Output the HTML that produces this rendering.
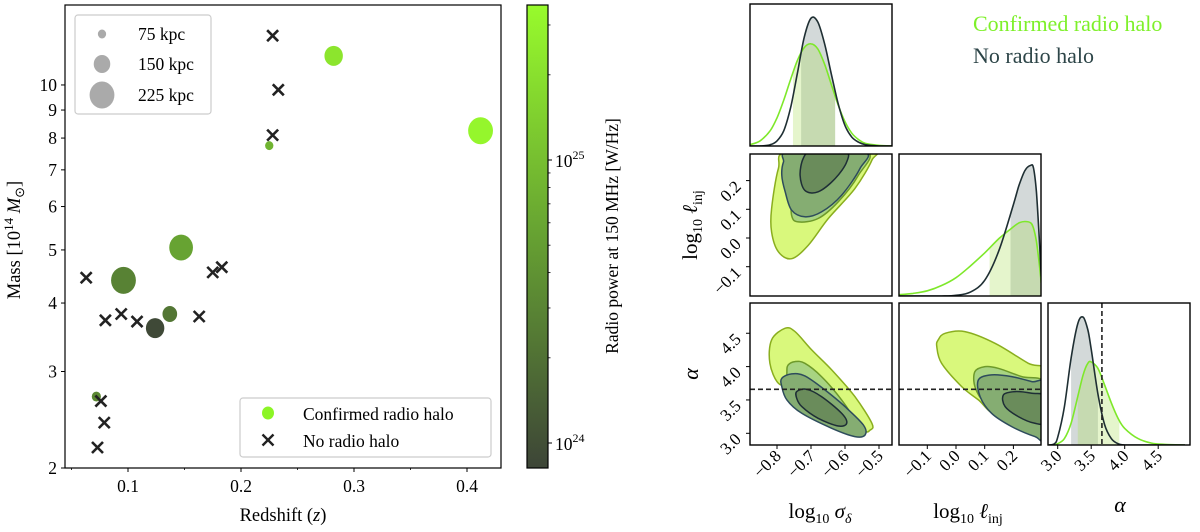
<!DOCTYPE html>
<html><head><meta charset="utf-8"><style>
html,body{margin:0;padding:0;background:#fff;}
svg{display:block;font-family:"Liberation Serif",serif;}
</style></head><body>
<svg id="fig" width="1200" height="532" viewBox="0 0 1200 532" xmlns="http://www.w3.org/2000/svg">
<defs>
<clipPath id="cpS"><rect x="65" y="5" width="436" height="463"/></clipPath>
<clipPath id="c11"><rect x="750" y="4" width="142" height="142"/></clipPath>
<clipPath id="c21"><rect x="750" y="154" width="142" height="142"/></clipPath>
<clipPath id="c22"><rect x="899" y="154" width="142" height="142"/></clipPath>
<clipPath id="c31"><rect x="750" y="303" width="142" height="142"/></clipPath>
<clipPath id="c32"><rect x="899" y="303" width="142" height="142"/></clipPath>
<clipPath id="c33"><rect x="1048" y="303" width="142" height="142"/></clipPath>
<linearGradient id="cmap" x1="0" y1="1" x2="0" y2="0">
<stop offset="0" stop-color="#3d4537"/><stop offset="0.5" stop-color="#66a132"/><stop offset="1" stop-color="#98fb2c"/>
</linearGradient>
</defs>
</svg>
<script>
// ---------- scatter data ----------
const haloZ = [0.282, 0.412, 0.225, 0.147, 0.096, 0.137, 0.124, 0.072];
const haloMass = [11.3, 8.25, 7.75, 5.05, 4.4, 3.82, 3.6, 2.7];
const haloSizeKpc = [167, 225, 75, 215, 225, 133, 167, 83];
const haloLogPower = [25.35, 25.5, 24.9, 24.75, 24.45, 24.35, 23.95, 24.5];
const noHaloZ = [0.228, 0.233, 0.228, 0.063, 0.175, 0.183, 0.080, 0.094, 0.108, 0.163, 0.076, 0.079, 0.073];
const noHaloMass = [12.3, 9.8, 8.1, 4.45, 4.55, 4.65, 3.72, 3.82, 3.7, 3.78, 2.65, 2.42, 2.18];
const xTicks = [0.1, 0.2, 0.3, 0.4];
const xTickLabels = ["0.1", "0.2", "0.3", "0.4"];
const yTicks = [2, 3, 4, 5, 6, 7, 8, 9, 10];
const yTickLabels = ["2", "3", "4", "5", "6", "7", "8", "9", "10"];
const cbTicks = [24, 25];
const legendSizes = [75, 150, 225];

// ---------- corner data ----------
const sigGrid = [-0.88,-0.85,-0.82,-0.8,-0.78,-0.76,-0.74,-0.72,-0.70,-0.68,-0.66,-0.64,-0.62,-0.60,-0.58,-0.56,-0.54,-0.50,-0.46];
const sigDark = [0,0,0.01,0.04,0.12,0.3,0.57,0.85,1.0,0.97,0.8,0.56,0.33,0.16,0.07,0.03,0.01,0,0];
const sigGreen = [0.01,0.04,0.12,0.22,0.36,0.52,0.67,0.77,0.8,0.76,0.64,0.48,0.32,0.19,0.1,0.05,0.02,0.005,0];
const linjGrid = [-0.2,-0.15,-0.1,-0.05,0,0.05,0.1,0.15,0.2,0.22,0.24,0.26,0.27,0.28,0.29,0.297];
const linjGreen = [0.01,0.02,0.04,0.08,0.14,0.23,0.33,0.44,0.53,0.56,0.57,0.56,0.52,0.42,0.25,0.1];
const linjDark = [0,0,0,0,0.005,0.03,0.12,0.35,0.7,0.85,0.96,1.0,0.98,0.8,0.45,0.15];
const alphaGrid = [2.87,2.95,3.0,3.1,3.2,3.3,3.38,3.45,3.5,3.6,3.7,3.8,3.9,4.0,4.2,4.4,4.6,4.9];
const alphaDark = [0,0.01,0.06,0.3,0.68,0.95,1.0,0.9,0.75,0.4,0.16,0.05,0.01,0,0,0,0,0];
const alphaGreen = [0,0,0.01,0.05,0.17,0.38,0.55,0.64,0.65,0.6,0.47,0.33,0.21,0.13,0.05,0.015,0.005,0];
const sigBandGreen = [-0.753, -0.629];
const sigBandDark = [-0.729, -0.629];
const linjBandGreen = [0.117, 0.297];
const linjBandDark = [0.19, 0.297];
const alphaBandGreen = [3.3, 3.92];
const alphaBandDark = [3.2, 3.6];
const alphaTrue = 3.66;
// contours [x,y] pairs
const sl_greenOuter = [[-0.796,0.242],[-0.767,0.3],[-0.526,0.3],[-0.521,0.271],[-0.571,0.172],[-0.649,0.068],[-0.708,-0.025],[-0.757,-0.072],[-0.796,-0.048],[-0.816,0.021],[-0.816,0.102]];
const sl_greenInner = [[-0.747,0.242],[-0.732,0.3],[-0.536,0.3],[-0.561,0.218],[-0.62,0.126],[-0.679,0.068],[-0.737,0.056],[-0.757,0.079],[-0.757,0.161]];
const sl_darkOuter = [[-0.781,0.265],[-0.762,0.3],[-0.546,0.3],[-0.556,0.242],[-0.61,0.149],[-0.669,0.091],[-0.718,0.074],[-0.757,0.097],[-0.776,0.161],[-0.786,0.218]];
const sl_darkInner = [[-0.723,0.277],[-0.698,0.3],[-0.6,0.3],[-0.595,0.265],[-0.629,0.207],[-0.679,0.161],[-0.718,0.166],[-0.732,0.218]];
const sa_greenOuter = [[-0.816,4.40],[-0.776,4.575],[-0.747,4.525],[-0.698,4.25],[-0.639,3.95],[-0.571,3.55],[-0.521,3.15],[-0.526,3.05],[-0.551,3.05],[-0.649,3.40],[-0.757,3.70],[-0.796,3.75],[-0.821,4.05]];
const sa_greenInner = [[-0.767,4.025],[-0.747,4.075],[-0.718,4.05],[-0.669,3.85],[-0.61,3.5],[-0.581,3.25],[-0.6,3.125],[-0.669,3.2],[-0.737,3.4],[-0.767,3.7],[-0.771,3.925]];
const sa_darkOuter = [[-0.786,3.825],[-0.757,3.89],[-0.718,3.86],[-0.659,3.65],[-0.6,3.4],[-0.546,3.125],[-0.541,2.975],[-0.571,2.95],[-0.639,3.075],[-0.727,3.30],[-0.771,3.5],[-0.786,3.70]];
const sa_darkInner = [[-0.742,3.625],[-0.713,3.66],[-0.669,3.55],[-0.61,3.30],[-0.595,3.15],[-0.62,3.11],[-0.679,3.225],[-0.727,3.40],[-0.742,3.525]];
const la_greenOuter = [[-0.062,4.40],[-0.038,4.5],[0.031,4.525],[0.136,4.35],[0.252,4.05],[0.31,3.95],[0.31,3.40],[0.287,3.40],[0.147,3.275],[0.078,3.5],[0.020,3.70],[-0.05,4.05],[-0.067,4.30]];
const la_greenInner = [[0.066,3.925],[0.101,4.0],[0.147,3.975],[0.229,3.85],[0.31,3.75],[0.31,3.10],[0.264,3.10],[0.171,3.25],[0.101,3.45],[0.066,3.70]];
const la_darkOuter = [[0.078,3.80],[0.124,3.875],[0.194,3.85],[0.264,3.775],[0.31,3.725],[0.31,2.925],[0.275,2.95],[0.194,3.10],[0.124,3.30],[0.084,3.55]];
const la_darkInner = [[0.165,3.575],[0.206,3.625],[0.264,3.60],[0.31,3.55],[0.31,3.175],[0.275,3.15],[0.217,3.25],[0.171,3.40]];
const sigTicks = [-0.8,-0.7,-0.6,-0.5];
const sigTickLabels = ["\u22120.8","\u22120.7","\u22120.6","\u22120.5"];
const linjTicks = [-0.1,0.0,0.1,0.2];
const linjTickLabels = ["\u22120.1","0.0","0.1","0.2"];
const alphaTicks = [3.0,3.5,4.0,4.5];
const alphaTickLabels = ["3.0","3.5","4.0","4.5"];

const NS = "http://www.w3.org/2000/svg";
const svg = document.getElementById("fig");
function el(tag, attrs, parent) {
  const e = document.createElementNS(NS, tag);
  for (const k in attrs) e.setAttribute(k, attrs[k]);
  (parent || svg).appendChild(e);
  return e;
}
function txt(s, attrs, parent) { const t = el("text", attrs, parent); t.textContent = s; return t; }

// scales
const sx = z => 15 + z * 1130;
const sy = m => 468 - (Math.log10(m) - Math.log10(2)) * 548;
const cby = p => 160 - (p - 25) * 283;
const rOf = s => s / 225 * 13.5;
function lerp(a, b, t) { return a + (b - a) * t; }
function cmap(p) {
  let t = (p - 23.91) / (25.548 - 23.91); t = Math.max(0, Math.min(1, t));
  const c0 = [61,69,55], c1 = [102,161,50], c2 = [152,251,44];
  let a, b, u;
  if (t < 0.5) { a = c0; b = c1; u = t / 0.5; } else { a = c1; b = c2; u = (t - 0.5) / 0.5; }
  return "rgb(" + [0,1,2].map(i => Math.round(lerp(a[i], b[i], u))).join(",") + ")";
}
// smooth path through pixel points (Catmull-Rom)
function smooth(P, closed) {
  const n = P.length;
  const get = i => closed ? P[(i + n) % n] : P[Math.max(0, Math.min(n - 1, i))];
  let d = "M" + P[0][0].toFixed(1) + "," + P[0][1].toFixed(1);
  const m = closed ? n : n - 1;
  for (let i = 0; i < m; i++) {
    const p0 = get(i - 1), p1 = get(i), p2 = get(i + 1), p3 = get(i + 2);
    const c1 = [p1[0] + (p2[0] - p0[0]) / 6, p1[1] + (p2[1] - p0[1]) / 6];
    const c2 = [p2[0] - (p3[0] - p1[0]) / 6, p2[1] - (p3[1] - p1[1]) / 6];
    d += "C" + c1.map(v => v.toFixed(1)).join(",") + " " + c2.map(v => v.toFixed(1)).join(",") + " " + p2[0].toFixed(1) + "," + p2[1].toFixed(1);
  }
  return d + (closed ? "Z" : "");
}

// ===== scatter panel =====
const gS = el("g", {});


const gPts = el("g", {"clip-path": "url(#cpS)"}, gS);
haloZ.forEach((z, i) => {
  const c = el("ellipse", {cx: sx(haloZ[i]), cy: sy(haloMass[i]), rx: rOf(haloSizeKpc[i]) * 0.92, ry: rOf(haloSizeKpc[i]), fill: cmap(haloLogPower[i])}, gPts);
  
  
});
function xMark(x, y, h, parent, w) {
  const g = el("g", {stroke: "#222", "stroke-width": w || 2.6}, parent);
  el("line", {x1: x - h, y1: y - h, x2: x + h, y2: y + h}, g);
  el("line", {x1: x - h, y1: y + h, x2: x + h, y2: y - h}, g);
  return g;
}
noHaloZ.forEach((z, i) => {
  const g = xMark(sx(noHaloZ[i]), sy(noHaloMass[i]), 5.5, gPts);
  
  
});
el("rect", {x: 65, y: 5, width: 436, height: 463, fill: "none", stroke: "#000", "stroke-width": 1.2}, gS);
xTicks.forEach((v, i) => {
  el("line", {x1: sx(v), x2: sx(v), y1: 468, y2: 472, stroke: "#000"}, gS);
  const t = txt(xTickLabels[i], {x: sx(v), y: 492, "text-anchor": "middle", "font-size": 17.5}, gS);
  
  
});
[0.05,0.15,0.25,0.35].forEach(v => el("line", {x1: sx(v), x2: sx(v), y1: 468, y2: 470, stroke: "#000", "stroke-width": 0.8}, gS));
yTicks.forEach((v, i) => {
  el("line", {x1: 61, x2: 65, y1: sy(v), y2: sy(v), stroke: "#000"}, gS);
  const t = txt(yTickLabels[i], {x: 57, y: sy(v) + 6, "text-anchor": "end", "font-size": 17.5}, gS);
  
  
});
const xl = txt("Redshift", {x: 283, y: 521, "text-anchor": "middle", "font-size": 18.5}, gS);
xl.innerHTML = 'Redshift (<tspan font-style="italic">z</tspan>)';


const yl = el("text", {transform: "translate(20,240) rotate(-90)", "text-anchor": "middle", "font-size": 18.5}, gS);
yl.innerHTML = 'Mass [10<tspan dy="-7" font-size="13">14</tspan><tspan dy="7"> </tspan><tspan font-style="italic">M</tspan><tspan dy="4" font-size="13">⊙</tspan><tspan dy="-4">]</tspan>';



// size legend
const lg1 = el("g", {}, gS);


el("rect", {x: 75, y: 15, width: 136, height: 99, rx: 3, fill: "#fff", stroke: "#ccc", "stroke-width": 1.2}, lg1);
legendSizes.forEach((s, i) => {
  const yy = [34, 64, 95][i];
  el("ellipse", {cx: 102, cy: yy, rx: rOf(s) * 0.92, ry: rOf(s), fill: "#aaa"}, lg1);
  const t = txt(s + " kpc", {x: 138, y: yy + 6, "font-size": 17.5}, lg1);
  
  
});
// type legend
const lg2 = el("g", {}, gS);


el("rect", {x: 240, y: 398, width: 251, height: 59, rx: 3, fill: "#fff", stroke: "#ccc", "stroke-width": 1.2}, lg2);
el("ellipse", {cx: 268, cy: 413, rx: 6, ry: 6.5, fill: "#8cf526"}, lg2);
xMark(268, 440, 5.5, lg2, 2.4);
const le1 = txt("Confirmed radio halo", {x: 303, y: 420, "font-size": 17.5}, lg2);


const le2 = txt("No radio halo", {x: 303, y: 447, "font-size": 17.5}, lg2);



// colorbar
const gC = el("g", {});


el("rect", {x: 527, y: 5, width: 21, height: 463, fill: "url(#cmap)", stroke: "#000", "stroke-width": 1.2}, gC);
cbTicks.forEach(p => {
  el("line", {x1: 548, x2: 552, y1: cby(p), y2: cby(p), stroke: "#000"}, gC);
  const t = el("text", {x: 555, y: cby(p) + 7, "font-size": 17.5}, gC);
  t.innerHTML = '10<tspan dy="-8" font-size="12">' + p + '</tspan>';
  
  
  for (let k = 2; k <= 9; k++) {
    const yy = cby(p + Math.log10(k));
    if (yy > 5 && yy < 468) el("line", {x1: 548, x2: 550.5, y1: yy, y2: yy, stroke: "#000", "stroke-width": 0.8}, gC);
  }
});
const cbl = txt("Radio power at 150 MHz [W/Hz]", {transform: "translate(618,236) rotate(-90)", "text-anchor": "middle", "font-size": 17.5}, gC);



// ===== corner plot =====
const XS = s => 777 + (s + 0.8) * 340;
const XL = l => 956 + l * 287;
const YL = l => 238 - l * 287;
const XA = a => 1057.7 + (a - 3) * 67;
const YA = a => 433.3 - (a - 3) * 66.7;
const gK = el("g", {});



function curvePts(grid, vals, fx, base, h) {
  return grid.map((g, i) => [fx(g), base - vals[i] * h]);
}
// sample smooth curve value at x by linear interp of dense catmull points
function denseCurve(grid, vals) {
  const out = [];
  const n = grid.length;
  const g = i => Math.max(0, Math.min(n - 1, i));
  for (let i = 0; i < n - 1; i++) {
    for (let s = 0; s < 10; s++) {
      const t = s / 10;
      const p0 = vals[g(i-1)], p1 = vals[i], p2 = vals[i+1], p3 = vals[g(i+2)];
      const v = 0.5 * ((2*p1) + (-p0+p2)*t + (2*p0-5*p1+4*p2-p3)*t*t + (-p0+3*p1-3*p2+p3)*t*t*t);
      out.push([grid[i] + (grid[i+1]-grid[i]) * t, Math.max(0, v)]);
    }
  }
  out.push([grid[n-1], vals[n-1]]);
  return out;
}
function bandPath(grid, vals, fx, base, h, lo, hi) {
  const D = denseCurve(grid, vals);
  const interp = x => { for (let i = 1; i < D.length; i++) if (x <= D[i][0]) { const t = (x - D[i-1][0]) / (D[i][0] - D[i-1][0]); return D[i-1][1] + t * (D[i][1] - D[i-1][1]); } return D[D.length-1][1]; };
  let d = "M" + fx(lo) + "," + base + "L" + fx(lo) + "," + (base - interp(lo) * h);
  D.forEach(p => { if (p[0] > lo && p[0] < hi) d += "L" + fx(p[0]).toFixed(1) + "," + (base - p[1] * h).toFixed(1); });
  d += "L" + fx(hi) + "," + (base - interp(hi) * h) + "L" + fx(hi) + "," + base + "Z";
  return d;
}
function hist1d(name, clip, grid, dark, green, fx, base, h, bG, bD) {
  const g = el("g", {"clip-path": clip}, gK);
  
  
  el("path", {d: bandPath(grid, dark, fx, base, h, bD[0], bD[1]), fill: "#d3d9d9"}, g);
  el("path", {d: bandPath(grid, green, fx, base, h, bG[0], bG[1]), fill: "#a8dd55", "fill-opacity": 0.3}, g);
  el("path", {d: smooth(curvePts(grid, green, fx, base, h), false), fill: "none", stroke: "#7ee82a", "stroke-width": 1.6}, g);
  el("path", {d: smooth(curvePts(grid, dark, fx, base, h), false), fill: "none", stroke: "#1f2f33", "stroke-width": 1.6}, g);
  return g;
}
hist1d("sigma-posterior", "url(#c11)", sigGrid, sigDark, sigGreen, XS, 146, 0.9 * 142, sigBandGreen, sigBandDark);
hist1d("linj-posterior", "url(#c22)", linjGrid, linjDark, linjGreen, XL, 296, 0.92 * 142, linjBandGreen, linjBandDark);
const ga = hist1d("alpha-posterior", "url(#c33)", alphaGrid, alphaDark, alphaGreen, XA, 445, 0.9 * 142, alphaBandGreen, alphaBandDark);
el("line", {x1: XA(alphaTrue), x2: XA(alphaTrue), y1: 303, y2: 445, stroke: "#222", "stroke-width": 1.6, "stroke-dasharray": "5,3"}, ga);

function poly(pts, fx, fy, fill, stroke, parent) {
  return el("path", {d: smooth(pts.map(q => [fx(q[0]), fy(q[1])]), true), fill: fill, stroke: stroke, "stroke-width": 1.5, "stroke-linejoin": "round"}, parent);
}
function contours(name, clip, sets, fx, fy) {
  const g = el("g", {"clip-path": clip}, gK);
  
  
  poly(sets[0], fx, fy, "#d9f87c", "#8aae1e", g);
  poly(sets[1], fx, fy, "#a8d482", "#6e9a2a", g);
  poly(sets[2], fx, fy, "#85ad72", "#2e4c5c", g);
  poly(sets[3], fx, fy, "#6a8c5b", "#1e2e36", g);
  return g;
}
contours("sigma-linj-contours", "url(#c21)", [sl_greenOuter, sl_greenInner, sl_darkOuter, sl_darkInner], XS, YL);
const g31 = contours("sigma-alpha-contours", "url(#c31)", [sa_greenOuter, sa_greenInner, sa_darkOuter, sa_darkInner], XS, YA);
el("line", {x1: 750, x2: 892, y1: YA(alphaTrue), y2: YA(alphaTrue), stroke: "#222", "stroke-width": 1.6, "stroke-dasharray": "5,3"}, g31);
const g32 = contours("linj-alpha-contours", "url(#c32)", [la_greenOuter, la_greenInner, la_darkOuter, la_darkInner], XL, YA);
el("line", {x1: 899, x2: 1041, y1: YA(alphaTrue), y2: YA(alphaTrue), stroke: "#222", "stroke-width": 1.6, "stroke-dasharray": "5,3"}, g32);

// frames
[[750,4],[750,154],[899,154],[750,303],[899,303],[1048,303]].forEach(p => {
  const r = el("rect", {x: p[0], y: p[1], width: 142, height: 142, fill: "none", stroke: "#000", "stroke-width": 1.4}, gK);
  
  
});
function xTicksRot(ticks, labels, fx) {
  ticks.forEach((v, i) => {
    const x = fx(v);
    el("line", {x1: x, x2: x, y1: 445, y2: 449, stroke: "#000"}, gK);
    const t = txt(labels[i], {transform: "translate(" + (x + 5) + ",457) rotate(-45)", "text-anchor": "end", "font-size": 17}, gK);
    
    
  });
}
xTicksRot(sigTicks, sigTickLabels, XS);
xTicksRot(linjTicks, linjTickLabels, XL);
xTicksRot(alphaTicks, alphaTickLabels, XA);
function yTicksRot(ticks, labels, fy) {
  ticks.forEach((v, i) => {
    const y = fy(v);
    el("line", {x1: 746, x2: 750, y1: y, y2: y, stroke: "#000"}, gK);
    const t = txt(labels[i], {transform: "translate(742," + (y + 7) + ") rotate(-45)", "text-anchor": "end", "font-size": 17}, gK);
    
    
  });
}
yTicksRot(linjTicks, linjTickLabels, YL);
yTicksRot(alphaTicks, alphaTickLabels, YA);

function label(html, attrs, name) {
  const t = el("text", attrs, gK);
  t.innerHTML = html;
  
  
}
label('log<tspan dy="5" font-size="14">10</tspan><tspan dy="-5"> </tspan><tspan font-style="italic">σ</tspan><tspan dy="5" font-size="14" font-style="italic">δ</tspan>', {x: 820, y: 518, "text-anchor": "middle", "font-size": 21}, "x-title-sigma");
label('log<tspan dy="5" font-size="14">10</tspan><tspan dy="-5"> </tspan><tspan font-style="italic">ℓ</tspan><tspan dy="5" font-size="14">inj</tspan>', {x: 968, y: 518, "text-anchor": "middle", "font-size": 21}, "x-title-linj");
label('<tspan font-style="italic">α</tspan>', {x: 1120, y: 512, "text-anchor": "middle", "font-size": 22}, "x-title-alpha");
label('log<tspan dy="5" font-size="14">10</tspan><tspan dy="-5"> </tspan><tspan font-style="italic">ℓ</tspan><tspan dy="5" font-size="14">inj</tspan>', {transform: "translate(697,225) rotate(-90)", "text-anchor": "middle", "font-size": 21}, "y-title-linj");
label('<tspan font-style="italic">α</tspan>', {transform: "translate(698,374) rotate(-90)", "text-anchor": "middle", "font-size": 22}, "y-title-alpha");
const cl1 = txt("Confirmed radio halo", {x: 973, y: 31, "font-size": 22, fill: "#7ef02a"}, gK);


const cl2 = txt("No radio halo", {x: 973, y: 63, "font-size": 22, fill: "#2d4548"}, gK);


</script>
</body></html>
